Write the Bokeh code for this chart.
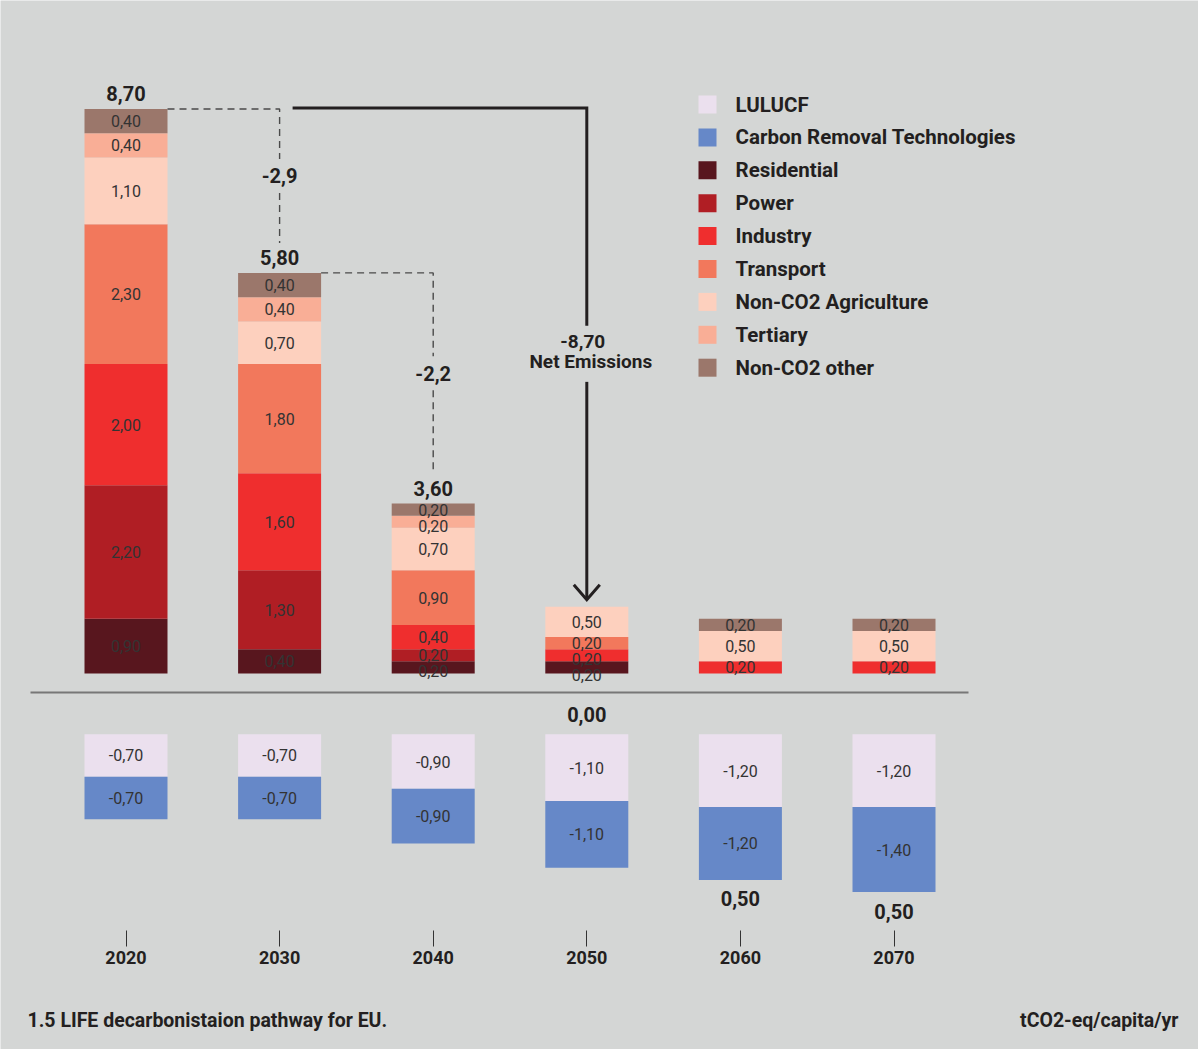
import numpy as np
from bokeh.plotting import figure
from bokeh.models import Range1d, LinearAxis, FixedTicker, Label
from bokeh.core.properties import value
from bokeh.embed import file_html
from bokeh.resources import INLINE

# ---- data (tCO2-eq/capita/yr) ----
years = [2020, 2030, 2040, 2050, 2060, 2070]

# emitting sectors, listed from the bottom of each stack upwards
residential = [0.90, 0.40, 0.20, 0.20, 0.00, 0.00]
power = [2.20, 1.30, 0.20, 0.00, 0.00, 0.00]
industry = [2.00, 1.60, 0.40, 0.20, 0.20, 0.20]
transport = [2.30, 1.80, 0.90, 0.20, 0.00, 0.00]
non_co2_agriculture = [1.10, 0.70, 0.70, 0.50, 0.50, 0.50]
tertiary = [0.40, 0.40, 0.20, 0.00, 0.00, 0.00]
non_co2_other = [0.40, 0.40, 0.20, 0.00, 0.20, 0.20]

# removals, listed from the top of each stack downwards
lulucf = [-0.70, -0.70, -0.90, -1.10, -1.20, -1.20]
carbon_removal = [-0.70, -0.70, -0.90, -1.10, -1.20, -1.40]

net_labels = ["8,70", "5,80", "3,60", "0,00", "0,50", "0,50"]
net_anchor = ["top", "top", "top", "zero", "bottom", "bottom"]
step_labels = ["-2,9", "-2,2"]
overall_change = "-8,70"

sector_names = ["Residential", "Power", "Industry", "Transport",
                "Non-CO2 Agriculture", "Tertiary", "Non-CO2 other"]
sector_colors = ["#58161e", "#b01e24", "#ef2e2e", "#f2785c",
                 "#fdd0be", "#f9ae96", "#9b776b"]
removal_names = ["LULUCF", "Carbon Removal Technologies"]
removal_colors = ["#ebe0ee", "#6688c8"]

# ---- layout ----
W, H = 1198, 1049
BG = "#d4d6d5"
INK = "#231f20"
FONT = value("Roboto")
PX_YEAR = 15.36      # pixels per year on x
PX_UNIT = 60.7       # pixels per tCO2-eq on y
FIRST_PX = 125.5     # pixel column of the first year
ZERO_PX = 673        # pixel row of the zero line
GAP = 1.0            # space between zero and the removal stacks
BAR_W = 83 / PX_YEAR
MIN_LABEL_STEP = 16  # minimum pixel spacing of value labels inside a stack

x_start = years[0] - FIRST_PX / PX_YEAR
y_top = ZERO_PX / PX_UNIT


def xd(px):
    return x_start + px / PX_YEAR


def yd(py):
    return y_top - py / PX_UNIT


def dxp(n):
    return n / PX_YEAR


def dyp(n):
    return n / PX_UNIT


def fmt(v):
    return f"{v:.2f}".replace(".", ",")


p = figure(width=W, height=H,
           x_range=Range1d(x_start, x_start + W / PX_YEAR),
           y_range=Range1d(y_top - H / PX_UNIT, y_top),
           output_backend="svg", toolbar_location=None,
           x_axis_location=None, y_axis_location=None,
           min_border=0, outline_line_color=None,
           background_fill_color=BG, border_fill_color=BG)
p.grid.visible = False

# ---- emission stacks ----
pos = np.array([residential, power, industry, transport,
                non_co2_agriculture, tertiary, non_co2_other])
pos_top = np.cumsum(pos, axis=0)
pos_bot = pos_top - pos

for i, color in enumerate(sector_colors):
    p.vbar(x=years, top=pos_top[i], bottom=pos_bot[i], width=BAR_W,
           fill_color=color, line_color=None)

lab_x, lab_y, lab_t = [], [], []
for j, yr in enumerate(years):
    # walk each stack from the top down, nudging crowded labels apart
    prev = None
    for i in range(len(sector_colors) - 1, -1, -1):
        if pos[i, j] == 0:
            continue
        yc = (pos_top[i, j] + pos_bot[i, j]) / 2
        if prev is not None and prev - yc < dyp(MIN_LABEL_STEP):
            yc = prev - dyp(MIN_LABEL_STEP)
        prev = yc
        lab_x.append(yr)
        lab_y.append(yc)
        lab_t.append(fmt(pos[i, j]))

# ---- removal stacks ----
neg = np.array([lulucf, carbon_removal])
neg_bot = -GAP + np.cumsum(neg, axis=0)
neg_top = neg_bot - neg
for i, color in enumerate(removal_colors):
    p.vbar(x=years, top=neg_top[i], bottom=neg_bot[i], width=BAR_W,
           fill_color=color, line_color=None)
    for j, yr in enumerate(years):
        lab_x.append(yr)
        lab_y.append((neg_top[i, j] + neg_bot[i, j]) / 2)
        lab_t.append(fmt(neg[i, j]))

p.text(x=lab_x, y=lab_y, text=lab_t, text_align="center",
       text_baseline="middle", text_font=FONT, text_font_size="16px",
       text_color="#333333")

# ---- separator between emissions and removals ----
p.line([xd(30), xd(968)], [-dyp(19), -dyp(19)], line_color="#777777",
       line_width=2)

# ---- net totals ----
stack_top = pos_top[-1]
stack_bottom = neg_bot[-1]
net_y = []
for j, a in enumerate(net_anchor):
    if a == "top":
        net_y.append(stack_top[j] + dyp(15))
    elif a == "zero":
        net_y.append(-dyp(41))
    else:
        net_y.append(stack_bottom[j] - dyp(19))
p.text(x=years, y=net_y, text=net_labels, text_align="center",
       text_baseline="middle", text_font=FONT, text_font_style="bold",
       text_font_size="20px", text_color=INK)

# ---- dashed step connectors ----
for i, lab in enumerate(step_labels):
    x0 = years[i] + BAR_W / 2
    y0 = stack_top[i]
    xv = years[i + 1]
    y1 = stack_top[i + 1] + dyp(30)
    mid = (y0 + y1) / 2
    gap = dyp(17)
    p.line([x0, xv, xv], [y0, y0, mid + gap], line_color="#4a4a4a",
           line_width=1.4, line_dash="7 5")
    p.line([xv, xv], [mid - gap, y1], line_color="#4a4a4a",
           line_width=1.4, line_dash="7 5")
    p.text(x=[xv], y=[mid], text=[lab], text_align="center",
           text_baseline="middle", text_font=FONT, text_font_style="bold",
           text_font_size="20px", text_color=INK)

# ---- overall net-emissions arrow ----
xa = years[3]
yh = stack_top[0] + dyp(1)
xs = years[1] + dxp(13)
tip = stack_top[3] + dyp(7)
mid = (yh + tip) / 2
gap = dyp(28)
p.line([xs, xa, xa], [yh, yh, mid + gap], line_color=INK, line_width=3,
       line_join="miter")
p.line([xa, xa], [mid - gap, tip], line_color=INK, line_width=3)
p.line([xa - dxp(13), xa, xa + dxp(13)], [tip + dyp(15), tip, tip + dyp(15)],
       line_color=INK, line_width=3, line_join="miter")
p.text(x=[xa - dxp(4), xa + dxp(4)], y=[mid + dyp(12), mid - dyp(8)],
       text=[overall_change, "Net Emissions"], text_align="center",
       text_baseline="middle", text_font=FONT, text_font_style="bold",
       text_font_size="19px", text_color=INK)

# ---- legend ----
leg_names = removal_names + sector_names
leg_colors = removal_colors + sector_colors
leg_y = [yd(104 + k * 32.9) for k in range(len(leg_names))]
p.scatter(x=[xd(707)] * len(leg_names), y=leg_y, marker="square", size=18,
          fill_color=leg_colors, line_color=None)
p.text(x=[xd(735)] * len(leg_names), y=leg_y, text=leg_names,
       text_align="left", text_baseline="middle", text_font=FONT,
       text_font_style="bold", text_font_size="20.5px", text_color=INK)

# ---- year axis ----
axis = LinearAxis(ticker=FixedTicker(ticks=years), fixed_location=yd(930))
axis.axis_line_color = None
axis.major_tick_in = 0
axis.major_tick_out = 16
axis.minor_tick_in = 0
axis.minor_tick_out = 0
axis.major_tick_line_color = "#333333"
axis.major_tick_line_width = 1
axis.major_label_standoff = 4
axis.major_label_text_font = "Roboto"
axis.major_label_text_font_style = "bold"
axis.major_label_text_font_size = "18px"
axis.major_label_text_color = INK
p.add_layout(axis, "below")

# ---- footer ----
p.add_layout(Label(x=xd(27), y=yd(1020), text="1.5 LIFE decarbonistaion pathway for EU.",
                   text_align="left", text_baseline="middle", text_font="Roboto",
                   text_font_style="bold", text_font_size="19.5px", text_color=INK))
p.add_layout(Label(x=xd(1178), y=yd(1020), text="tCO2-eq/capita/yr",
                   text_align="right", text_baseline="middle", text_font="Roboto",
                   text_font_style="bold", text_font_size="19.5px", text_color=INK))

open("out.html", "w").write(file_html(p, INLINE))
